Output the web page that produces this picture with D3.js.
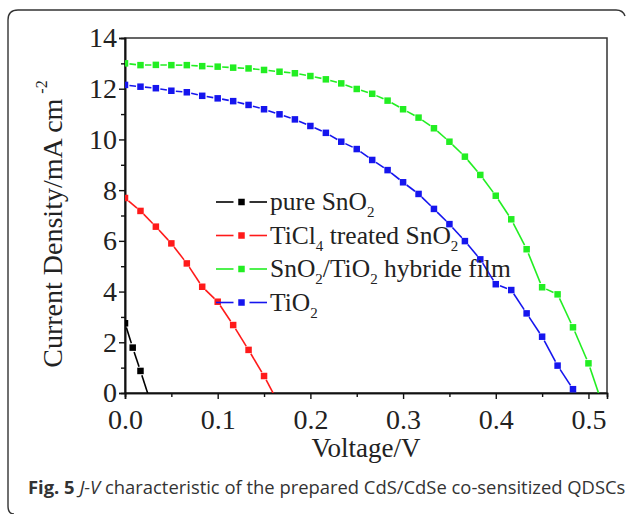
<!DOCTYPE html>
<html>
<head>
<meta charset="utf-8">
<script src="https://cdn.jsdelivr.net/npm/d3@7"></script>
<style>
  html, body { margin: 0; padding: 0; background: #fff; }
  svg { display: block; }
</style>
</head>
<body>
<svg id="chart" width="627" height="514"></svg>
<script>
// ---------- data ----------
const xTicks = [0.0, 0.1, 0.2, 0.3, 0.4, 0.5];
const yTicks = [0, 2, 4, 6, 8, 10, 12, 14];
const xMinor = [0.05, 0.15, 0.25, 0.35, 0.45];
const yMinor = [1, 3, 5, 7, 9, 11, 13];

const voltage = [0, 0.0167, 0.0333, 0.05, 0.0667, 0.0833, 0.1, 0.1167, 0.1333, 0.15,
  0.1667, 0.1833, 0.2, 0.2167, 0.2333, 0.25, 0.2667, 0.2833, 0.3, 0.3167,
  0.3333, 0.35, 0.3667, 0.3833, 0.4, 0.4167, 0.4333, 0.45, 0.4667, 0.4833, 0.5, 0.5167];
const voltagePure = [0, 0.0083, 0.0167, 0.0333];

const jPureSnO2 = [2.75, 1.79, 0.87, -1.01];
const jTiCl4 = [7.69, 7.18, 6.56, 5.90, 5.11, 4.19, 3.60, 2.68, 1.70, 0.67, -0.48];
const jHybrid = [13.00, 12.93, 12.94, 12.93, 12.93, 12.89, 12.87, 12.83, 12.80, 12.74,
  12.67, 12.61, 12.50, 12.37, 12.21, 11.99, 11.80, 11.53, 11.19, 10.86,
  10.44, 9.91, 9.32, 8.60, 7.78, 6.85, 5.67, 4.17, 3.89, 2.59, 1.17, -0.63];
const jTiO2 = [12.15, 12.08, 12.02, 11.92, 11.86, 11.72, 11.62, 11.51, 11.36, 11.19,
  10.99, 10.79, 10.53, 10.26, 9.91, 9.62, 9.19, 8.79, 8.31, 7.85,
  7.26, 6.66, 5.99, 5.27, 4.29, 4.06, 3.14, 2.22, 1.08, 0.15, -0.85];

const seriesNames = ["pure SnO2", "TiCl4 treated SnO2", "SnO2/TiO2 hybride film", "TiO2"];
const seriesColors = ["#000000", "#ff1a1a", "#22ee22", "#1515ee"];

const series = [
  { name: seriesNames[0], color: seriesColors[0], x: voltagePure, y: jPureSnO2 },
  { name: seriesNames[1], color: seriesColors[1], x: voltage, y: jTiCl4 },
  { name: seriesNames[2], color: seriesColors[2], x: voltage, y: jHybrid },
  { name: seriesNames[3], color: seriesColors[3], x: voltage, y: jTiO2 }
];

// ---------- layout ----------
const svg = d3.select("#chart");
const m = { left: 125, top: 38, right: 607, bottom: 393 };
const x = d3.scaleLinear().domain([0, 0.52]).range([m.left, m.right]);
const y = d3.scaleLinear().domain([0, 14]).range([m.bottom, m.top]);
const serif = "'Liberation Serif', 'Times New Roman', serif";

// outer rounded frame (only top/left visible)
svg.append("path")
  .attr("d", "M 14 514 Q 8 514 8 506 L 8 20 Q 8 10 18 10 L 616 10 Q 623 10 625 16")
  .attr("fill", "none").attr("stroke", "#333").attr("stroke-width", 1.4);

// plot box
svg.append("rect")
  .attr("x", m.left).attr("y", m.top)
  .attr("width", m.right - m.left).attr("height", m.bottom - m.top)
  .attr("fill", "none").attr("stroke", "#333").attr("stroke-width", 1.5);

// axes
const xAxis = svg.append("g").attr("transform", `translate(0,${m.bottom})`)
  .call(d3.axisBottom(x).tickValues(xTicks).tickFormat(d3.format(".1f")).tickSize(6).tickPadding(10));
const xAxisMinor = svg.append("g").attr("transform", `translate(0,${m.bottom})`)
  .call(d3.axisBottom(x).tickValues(xMinor).tickSize(4));
const yAxis = svg.append("g").attr("transform", `translate(${m.left},0)`)
  .call(d3.axisLeft(y).tickValues(yTicks).tickSize(6).tickPadding(2));
const yAxisMinor = svg.append("g").attr("transform", `translate(${m.left},0)`)
  .call(d3.axisLeft(y).tickValues(yMinor).tickSize(4));
xAxisMinor.selectAll(".tick text").remove();
yAxisMinor.selectAll(".tick text").remove();

[xAxis, xAxisMinor, yAxis, yAxisMinor].forEach(g => {
  g.selectAll(".domain").attr("stroke", "#111").attr("stroke-width", 1.6);
  g.selectAll(".tick line").attr("stroke", "#111").attr("stroke-width", 1.4);
  g.selectAll(".tick text").attr("font-family", serif).attr("font-size", 28).attr("fill", "#222");
});
yAxis.selectAll(".tick text").attr("dy", "0.32em");

// axis titles
svg.append("text")
  .attr("x", (m.left + m.right) / 2).attr("y", 457)
  .attr("text-anchor", "middle").attr("font-family", serif).attr("font-size", 27).attr("fill", "#222")
  .text("Voltage/V");

const yl = svg.append("text")
  .attr("transform", "translate(62,224) rotate(-90)")
  .attr("text-anchor", "middle").attr("font-family", serif).attr("font-size", 28).attr("fill", "#222");
yl.append("tspan").text("Current Density/mA cm");
yl.append("tspan").attr("font-size", 16).attr("dx", 5).attr("dy", -15).text("-2");

// clip
svg.append("clipPath").attr("id", "plotclip")
  .append("rect").attr("x", m.left).attr("y", m.top)
  .attr("width", m.right - m.left).attr("height", m.bottom - m.top);

const plot = svg.append("g").attr("clip-path", "url(#plotclip)");
const MS = 6.5;    // marker size
const GAP = 4.5;   // gap from marker centre to line end

series.forEach(s => {
  const pts = s.x.map((v, i) => [x(v), y(s.y[i])]);
  const segs = [];
  for (let i = 0; i < pts.length - 1; i++) {
    const [x0, y0] = pts[i], [x1, y1] = pts[i + 1];
    const dx = x1 - x0, dy = y1 - y0, d = Math.hypot(dx, dy);
    if (d <= 2 * GAP) continue;
    const ux = dx / d, uy = dy / d;
    segs.push([x0 + ux * GAP, y0 + uy * GAP, x1 - ux * GAP, y1 - uy * GAP]);
  }
  const g = plot.append("g");
  g.selectAll("line").data(segs).join("line")
    .attr("x1", d => d[0]).attr("y1", d => d[1]).attr("x2", d => d[2]).attr("y2", d => d[3])
    .attr("stroke", s.color).attr("stroke-width", 1.6);
  g.selectAll("rect").data(pts).join("rect")
    .attr("x", d => d[0] - MS / 2).attr("y", d => d[1] - MS / 2)
    .attr("width", MS).attr("height", MS).attr("fill", s.color);
});

// legend
const legendRows = [202, 235.5, 269, 302.5];
const lx0 = 216, lxm = 241.5, lx1 = 267;
const lg = svg.append("g");
series.forEach((s, i) => {
  const ry = legendRows[i];
  lg.append("line").attr("x1", lx0).attr("x2", lxm - 8).attr("y1", ry).attr("y2", ry)
    .attr("stroke", s.color).attr("stroke-width", 1.6);
  lg.append("line").attr("x1", lxm + 8).attr("x2", lx1).attr("y1", ry).attr("y2", ry)
    .attr("stroke", s.color).attr("stroke-width", 1.6);
  lg.append("rect").attr("x", lxm - MS / 2).attr("y", ry - MS / 2)
    .attr("width", MS).attr("height", MS).attr("fill", s.color);
  const t = lg.append("text").attr("x", 270).attr("y", ry + 8)
    .attr("font-family", serif).attr("font-size", 25.5).attr("fill", "#222");
  // render subscripts for chemical formulas
  const parts = s.name.split(/(\d)/).filter(p => p !== "");
  let shifted = false;
  parts.forEach(p => {
    if (/^\d$/.test(p)) {
      t.append("tspan").attr("font-size", 15).attr("dy", 7).text(p);
      shifted = true;
    } else {
      const sp = t.append("tspan").text(p);
      if (shifted) { sp.attr("dy", -7); shifted = false; }
    }
  });
});

// caption
const cap = svg.append("text").attr("x", 28).attr("y", 494)
  .attr("font-family", "'Open Sans', 'Noto Sans', sans-serif").attr("font-size", 18.4).attr("fill", "#333");
cap.append("tspan").attr("font-weight", "bold").text("Fig. 5");
cap.append("tspan").attr("font-style", "italic").text(" J-V");
cap.append("tspan").text(" characteristic of the prepared CdS/CdSe co-sensitized QDSCs");
</script>
</body>
</html>
